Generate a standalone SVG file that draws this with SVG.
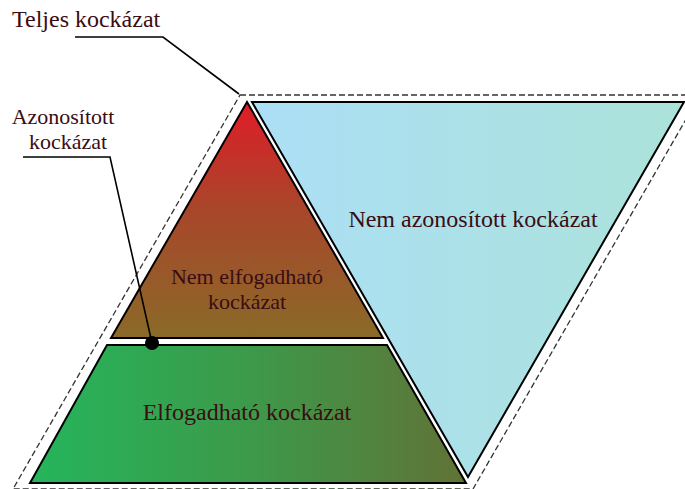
<svg xmlns="http://www.w3.org/2000/svg" width="685" height="489" viewBox="0 0 685 489">
  <defs>
    <linearGradient id="gRed" x1="0" y1="0" x2="0" y2="1">
      <stop offset="0" stop-color="#e01c28"/>
      <stop offset="0.45" stop-color="#a8462a"/>
      <stop offset="1" stop-color="#8a6a28"/>
    </linearGradient>
    <linearGradient id="gGreen" x1="0" y1="0" x2="1" y2="0">
      <stop offset="0" stop-color="#25b55c"/>
      <stop offset="0.5" stop-color="#3c9a4a"/>
      <stop offset="1" stop-color="#617236"/>
    </linearGradient>
    <linearGradient id="gBlue" x1="0" y1="0" x2="1" y2="0">
      <stop offset="0" stop-color="#acdff6"/>
      <stop offset="1" stop-color="#abe3da"/>
    </linearGradient>
    <style>
      .shape { stroke: #000; stroke-width: 2; stroke-linejoin: miter; }
      .dash { fill: none; stroke: #333; stroke-width: 1.3; stroke-dasharray: 6 3; }
      .lead { fill: none; stroke: #000; stroke-width: 1.6; }
      .lbl { font-family: "Liberation Serif", "Times New Roman", serif; font-size: 24px; fill: #3a0c14; }
      .two { font-size: 22px; }
      .c { text-anchor: middle; }
    </style>
  </defs>

  <g id="outline">
    <polygon class="dash" points="240,95 700,95 473,489 13,489"/>
  </g>

  <g id="node-blue">
    <polygon class="shape" fill="url(#gBlue)" points="252,102 684,102 468,477"/>
    <text class="lbl c" x="473" y="227">Nem azonosított kockázat</text>
  </g>

  <g id="node-red">
    <polygon class="shape" fill="url(#gRed)" points="247,102 383,338 111,338"/>
    <text class="lbl two c" x="247" y="284">Nem elfogadható</text>
    <text class="lbl two c" x="247" y="308.5">kockázat</text>
  </g>

  <g id="node-green">
    <polygon class="shape" fill="url(#gGreen)" points="107,345 387,345 466,483 30,483"/>
    <text class="lbl c" x="247" y="420">Elfogadható kockázat</text>
  </g>

  <g id="connectors">
    <polyline class="lead" points="75,37 163,37 239,94"/>
    <polyline class="lead" points="23,157 110,157 152,343"/>
    <circle cx="152" cy="343" r="7" fill="#000"/>
  </g>

  <g id="labels">
    <text class="lbl" x="12" y="27">Teljes kockázat</text>
    <text class="lbl two c" x="63" y="124">Azonosított</text>
    <text class="lbl two c" x="68" y="148.5">kockázat</text>
  </g>
</svg>
